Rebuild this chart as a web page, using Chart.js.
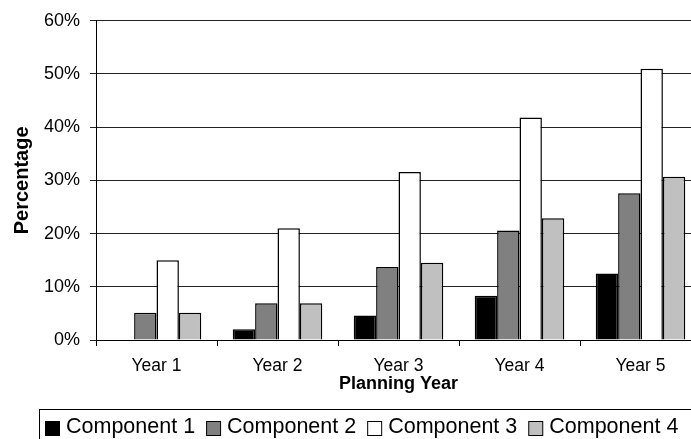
<!DOCTYPE html>
<html>
<head>
<meta charset="utf-8">
<script src="https://cdn.jsdelivr.net/npm/chart.js@4.4.0/dist/chart.umd.min.js"></script>
<style>
  html, body { margin: 0; padding: 0; background: #fff; overflow: hidden; width: 691px; height: 439px; }
  #wrap { position: relative; width: 712px; height: 439px; }
</style>
</head>
<body>
<div id="wrap"><canvas id="c" width="712" height="439"></canvas></div>
<script>
// Share of each component by planning year (percent)
const years = ['Year 1', 'Year 2', 'Year 3', 'Year 4', 'Year 5'];
const component1 = [0, 2.0, 4.6, 8.3, 12.5];
const component2 = [5.1, 6.9, 13.7, 20.6, 27.6];
const component3 = [15.0, 21.0, 31.6, 41.8, 51.0];
const component4 = [5.1, 6.9, 14.5, 22.9, 30.7];
const yTicks = [0, 10, 20, 30, 40, 50, 60];

const FONT = '"Liberation Sans", Arial, Helvetica, sans-serif';

// Legend drawn as a single bordered row beneath the axis title
const boxedLegend = {
  id: 'boxedLegend',
  afterDraw(chart) {
    const ctx = chart.ctx;
    ctx.save();
    ctx.strokeStyle = '#000';
    ctx.lineWidth = 1;
    ctx.strokeRect(39.5, 409.5, 720, 60);
    ctx.font = '21.5px ' + FONT;
    ctx.textBaseline = 'alphabetic';
    let x = 45;
    chart.data.datasets.forEach(ds => {
      ctx.fillStyle = ds.backgroundColor;
      ctx.fillRect(x + 0.5, 421.5, 14, 14);
      ctx.strokeRect(x + 0.5, 421.5, 14, 14);
      ctx.fillStyle = '#000';
      ctx.fillText(ds.label, x + 21, 432.5);
      x += 21 + ctx.measureText(ds.label).width + 11;
    });
    ctx.restore();
  }
};

const barStyle = { borderColor: '#000', borderWidth: 1.5, borderSkipped: 'bottom' };

new Chart(document.getElementById('c'), {
  type: 'bar',
  data: {
    labels: years,
    datasets: [
      Object.assign({ label: 'Component 1', data: component1, backgroundColor: '#000000' }, barStyle),
      Object.assign({ label: 'Component 2', data: component2, backgroundColor: '#808080' }, barStyle),
      Object.assign({ label: 'Component 3', data: component3, backgroundColor: '#ffffff' }, barStyle),
      Object.assign({ label: 'Component 4', data: component4, backgroundColor: '#c0c0c0' }, barStyle)
    ]
  },
  options: {
    responsive: false,
    animation: false,
    events: [],
    layout: { padding: { top: 17, right: 11, bottom: 44, left: 0 } },
    datasets: { bar: { categoryPercentage: 0.74, barPercentage: 1.0 } },
    plugins: {
      legend: { display: false },
      tooltip: { enabled: false },
      title: { display: false }
    },
    scales: {
      x: {
        grid: { drawOnChartArea: false, drawTicks: true, tickLength: 6, color: '#000', offset: true },
        border: { color: '#000', width: 1 },
        ticks: { color: '#000', font: { family: FONT, size: 17.5 }, padding: 10, maxRotation: 0 },
        title: {
          display: true, text: 'Planning Year', color: '#000',
          font: { family: FONT, size: 18, weight: 'bold' }, padding: { top: 0, bottom: 0 }
        },
        afterFit(scale) { scale.height = 55; }
      },
      y: {
        min: 0, max: 60,
        afterBuildTicks(scale) { scale.ticks = yTicks.map(v => ({ value: v })); },
        grid: { color: '#222', lineWidth: 1, tickLength: 6, drawTicks: true },
        border: { color: '#000', width: 1 },
        ticks: {
          color: '#000', font: { family: FONT, size: 18 }, padding: 10,
          callback: v => v + '%'
        },
        title: {
          display: true, text: 'Percentage', color: '#000',
          font: { family: FONT, size: 20, weight: 'bold' }, padding: { top: 10, bottom: 0 }
        },
        afterFit(scale) { scale.width = 96; }
      }
    }
  },
  plugins: [boxedLegend]
});
</script>
</body>
</html>
